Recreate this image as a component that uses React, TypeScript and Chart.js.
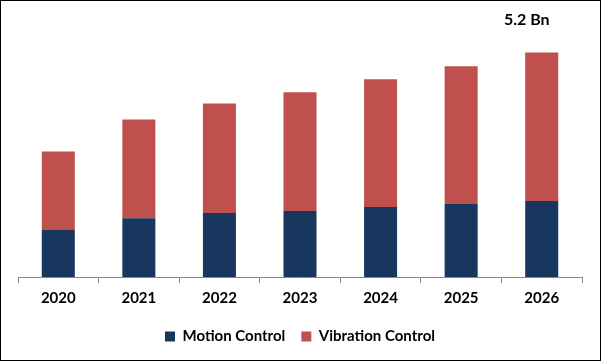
import React, { useEffect, useRef } from "react";
import { Chart, registerables } from "chart.js";

Chart.register(...registerables);

const years = ["2020", "2021", "2022", "2023", "2024", "2025", "2026"];
const motionControl = [1.09, 1.36, 1.48, 1.53, 1.62, 1.69, 1.76];
const vibrationControl = [1.82, 2.29, 2.54, 2.75, 2.96, 3.19, 3.44];
const totalLabel = "5.2 Bn";

const FONT = "Lato, 'Open Sans', sans-serif";

const totalLabelPlugin = {
  id: "totalLabel",
  afterDatasetsDraw(chart: any) {
    const meta = chart.getDatasetMeta(1);
    const el = meta.data[meta.data.length - 1];
    if (!el) return;
    const ctx = chart.ctx;
    ctx.save();
    ctx.font = `bold 16px ${FONT}`;
    ctx.fillStyle = "#000";
    ctx.textAlign = "center";
    ctx.textBaseline = "middle";
    ctx.fillText(totalLabel, el.x - 15, el.y - 33);
    ctx.restore();
  },
};

export default function App() {
  const ref = useRef<HTMLCanvasElement>(null);
  useEffect(() => {
    document.body.style.margin = "0";
    const chart = new Chart(ref.current!, {
      type: "bar",
      data: {
        labels: years,
        datasets: [
          {
            label: "Motion Control",
            data: motionControl,
            backgroundColor: "#17375E",
            categoryPercentage: 1,
            barPercentage: 0.41,
          },
          {
            label: "Vibration Control",
            data: vibrationControl,
            backgroundColor: "#C0504D",
            categoryPercentage: 1,
            barPercentage: 0.41,
          },
        ],
      },
      options: {
        responsive: false,
        animation: false,
        layout: { padding: { left: 17, right: 18, top: 17, bottom: 6 } },
        plugins: {
          legend: {
            position: "bottom",
            labels: {
              boxWidth: 10,
              boxHeight: 10,
              padding: 16,
              color: "#000",
              font: { family: FONT, size: 15, weight: "bold" },
            },
          },
          tooltip: { enabled: false },
        },
        scales: {
          x: {
            stacked: true,
            grid: {
              display: true,
              drawOnChartArea: false,
              drawTicks: true,
              tickLength: 6,
              color: "#888",
              offset: true,
            },
            border: { display: true, color: "#888" },
            ticks: {
              color: "#000",
              padding: 6,
              font: { family: FONT, size: 15, weight: "bold" },
            },
          },
          y: {
            stacked: true,
            display: false,
            min: 0,
            max: 6,
          },
        },
      },
      plugins: [totalLabelPlugin],
    });
    return () => chart.destroy();
  }, []);
  return (
    <div
      style={{
        position: "absolute",
        left: 0,
        top: 0,
        width: 601,
        height: 361,
        border: "1px solid #000",
        boxSizing: "border-box",
        background: "#fff",
      }}
    >
      <canvas ref={ref} width={599} height={359} style={{ display: "block" }} />
    </div>
  );
}
